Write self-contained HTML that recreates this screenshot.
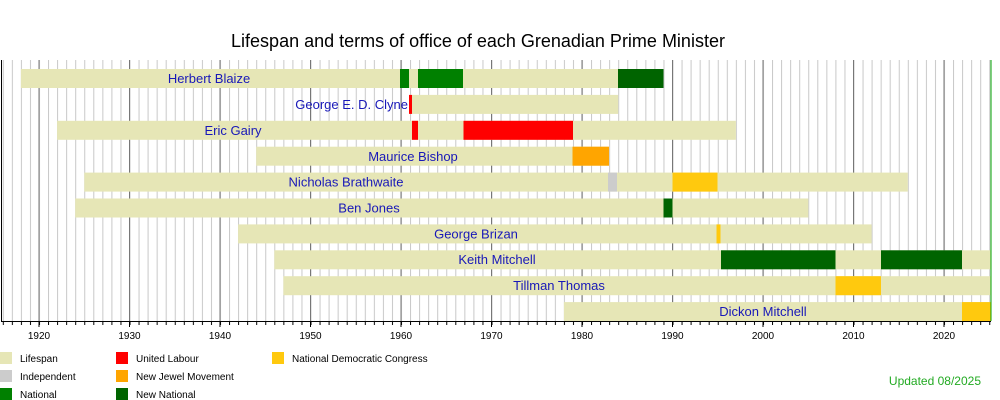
<!DOCTYPE html>
<html><head><meta charset="utf-8"><style>
html,body{margin:0;padding:0;background:#fff;}
svg{display:block;font-family:"Liberation Sans",sans-serif;}
</style></head><body>
<svg width="1000" height="400" xmlns="http://www.w3.org/2000/svg">
<defs>
<pattern id="yr" patternUnits="userSpaceOnUse" x="2.8" y="0" width="9.05" height="10">
<line x1="0.5" y1="0" x2="0.5" y2="10" stroke="#c8c8c8" stroke-width="1"/>
</pattern>
<pattern id="tk" patternUnits="userSpaceOnUse" x="2.8" y="0" width="9.05" height="10">
<line x1="0.5" y1="0" x2="0.5" y2="10" stroke="#000" stroke-width="1"/>
</pattern>
</defs>
<text x="478" y="47" font-size="18" text-anchor="middle" fill="#000">Lifespan and terms of office of each Grenadian Prime Minister</text>
<rect x="1" y="60" width="990" height="261" fill="url(#yr)"/>
<g stroke="#777" stroke-width="1">
<line x1="39" y1="60" x2="39" y2="321"/><line x1="129.5" y1="60" x2="129.5" y2="321"/><line x1="220" y1="60" x2="220" y2="321"/><line x1="310.5" y1="60" x2="310.5" y2="321"/><line x1="401" y1="60" x2="401" y2="321"/><line x1="491.5" y1="60" x2="491.5" y2="321"/><line x1="582" y1="60" x2="582" y2="321"/><line x1="672.5" y1="60" x2="672.5" y2="321"/><line x1="763" y1="60" x2="763" y2="321"/><line x1="853.5" y1="60" x2="853.5" y2="321"/><line x1="944" y1="60" x2="944" y2="321"/>
</g>
<g fill="#e6e6b6">
<rect x="20.9" y="69" width="642.6" height="19"/>
<rect x="410" y="94.9" width="208.2" height="19"/>
<rect x="57.1" y="120.8" width="678.8" height="19"/>
<rect x="256.2" y="146.7" width="353" height="19"/>
<rect x="84.3" y="172.6" width="823.5" height="19"/>
<rect x="75.2" y="198.5" width="733.1" height="19"/>
<rect x="238.1" y="224.4" width="633.5" height="19"/>
<rect x="274.3" y="250.3" width="716.7" height="19"/>
<rect x="283.4" y="276.2" width="707.6" height="19"/>
<rect x="563.9" y="302.1" width="427.1" height="19"/>
</g>
<rect x="400" y="69" width="9" height="19" fill="#008000"/>
<rect x="418" y="69" width="45" height="19" fill="#008000"/>
<rect x="618" y="69" width="45.5" height="19" fill="#006400"/>
<rect x="409" y="94.9" width="3" height="19" fill="#ff0000"/>
<rect x="412" y="120.8" width="6" height="19" fill="#ff0000"/>
<rect x="463.5" y="120.8" width="109.5" height="19" fill="#ff0000"/>
<rect x="572.5" y="146.7" width="36.5" height="19" fill="#ffa500"/>
<rect x="608" y="172.6" width="9" height="19" fill="#cccccc"/>
<rect x="672.5" y="172.6" width="45" height="19" fill="#ffc90e"/>
<rect x="663.5" y="198.5" width="9" height="19" fill="#006400"/>
<rect x="716.5" y="224.4" width="4" height="19" fill="#ffc90e"/>
<rect x="721" y="250.3" width="114.5" height="19" fill="#006400"/>
<rect x="881" y="250.3" width="81" height="19" fill="#006400"/>
<rect x="835.5" y="276.2" width="45.5" height="19" fill="#ffc90e"/>
<rect x="962" y="302.1" width="29" height="19" fill="#ffc90e"/>
<g font-size="13" fill="#1818b8">
<text x="209" y="83" text-anchor="middle">Herbert Blaize</text>
<text x="408" y="109" text-anchor="end">George E. D. Clyne</text>
<text x="233" y="135" text-anchor="middle">Eric Gairy</text>
<text x="413" y="161" text-anchor="middle">Maurice Bishop</text>
<text x="346" y="186.5" text-anchor="middle">Nicholas Brathwaite</text>
<text x="369" y="212.5" text-anchor="middle">Ben Jones</text>
<text x="476" y="238.5" text-anchor="middle">George Brizan</text>
<text x="497" y="264" text-anchor="middle">Keith Mitchell</text>
<text x="559" y="290" text-anchor="middle">Tillman Thomas</text>
<text x="763" y="316" text-anchor="middle">Dickon Mitchell</text>
</g>
<line x1="1.5" y1="60" x2="1.5" y2="321" stroke="#000"/>
<line x1="991" y1="60" x2="991" y2="321" stroke="#00a000"/>
<line x1="1" y1="321.5" x2="991" y2="321.5" stroke="#000"/>
<rect x="1" y="322" width="990" height="3" fill="url(#tk)"/>
<g stroke="#000"><line x1="39" y1="321" x2="39" y2="327"/><line x1="129.5" y1="321" x2="129.5" y2="327"/><line x1="220" y1="321" x2="220" y2="327"/><line x1="310.5" y1="321" x2="310.5" y2="327"/><line x1="401" y1="321" x2="401" y2="327"/><line x1="491.5" y1="321" x2="491.5" y2="327"/><line x1="582" y1="321" x2="582" y2="327"/><line x1="672.5" y1="321" x2="672.5" y2="327"/><line x1="763" y1="321" x2="763" y2="327"/><line x1="853.5" y1="321" x2="853.5" y2="327"/><line x1="944" y1="321" x2="944" y2="327"/></g>
<g font-size="10" fill="#000" text-anchor="middle">
<text x="39" y="339">1920</text><text x="129.5" y="339">1930</text><text x="220" y="339">1940</text><text x="310.5" y="339">1950</text><text x="401" y="339">1960</text><text x="491.5" y="339">1970</text><text x="582" y="339">1980</text><text x="672.5" y="339">1990</text><text x="763" y="339">2000</text><text x="853.5" y="339">2010</text><text x="944" y="339">2020</text>
</g>
<g font-size="10" fill="#000">
<rect x="0" y="352" width="12" height="12" fill="#e6e6b6"/><text x="20" y="362">Lifespan</text>
<rect x="0" y="370" width="12" height="12" fill="#cccccc"/><text x="20" y="380">Independent</text>
<rect x="0" y="388" width="12" height="12" fill="#008000"/><text x="20" y="398">National</text>
<rect x="116" y="352" width="12" height="12" fill="#ff0000"/><text x="136" y="362">United Labour</text>
<rect x="116" y="370" width="12" height="12" fill="#ffa500"/><text x="136" y="380">New Jewel Movement</text>
<rect x="116" y="388" width="12" height="12" fill="#006400"/><text x="136" y="398">New National</text>
<rect x="272" y="352" width="12" height="12" fill="#ffc90e"/><text x="292" y="362">National Democratic Congress</text>
</g>
<text x="981" y="385" font-size="12" fill="#22aa22" text-anchor="end">Updated 08/2025</text>
</svg>
</body></html>
